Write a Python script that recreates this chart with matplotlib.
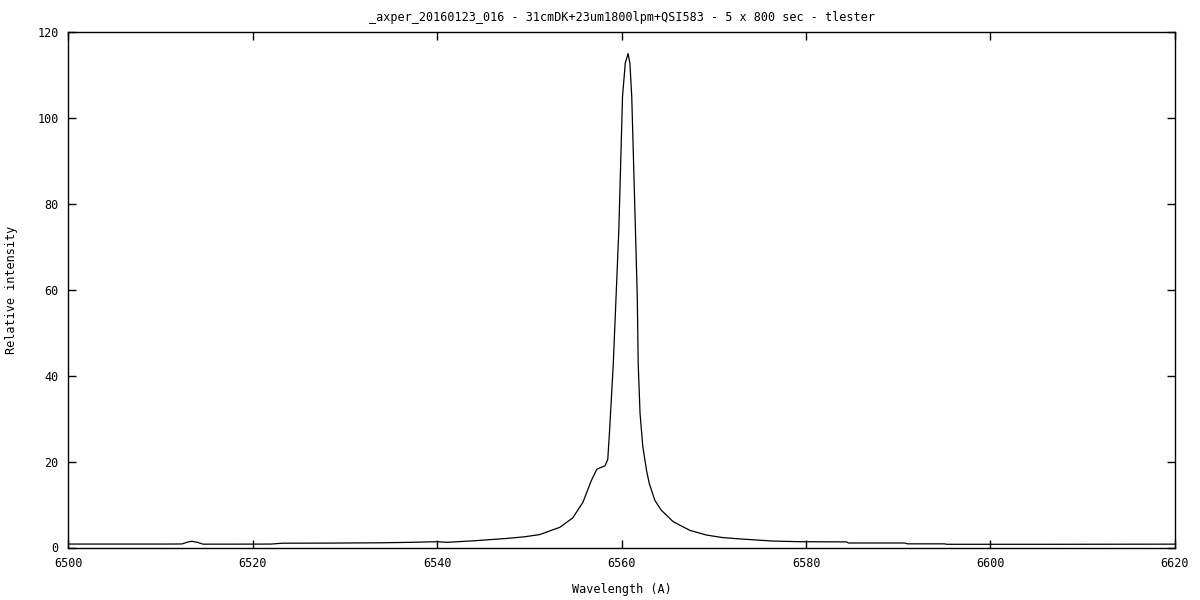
import matplotlib
matplotlib.use("Agg")
import matplotlib.pyplot as plt

# spectrum (wavelength in A, relative intensity)
wavelength = [6500.0, 6505.0, 6510.0, 6512.3, 6513.0, 6513.4, 6514.0, 6514.6,
              6518.0, 6522.0, 6523.2, 6528.0, 6534.0, 6537.0, 6540.0, 6541.0,
              6543.9, 6547.5, 6549.5, 6551.1, 6553.3, 6554.7, 6555.8, 6556.7,
              6557.3, 6557.8, 6558.2, 6558.5, 6558.7, 6558.9, 6559.1, 6559.4,
              6559.7, 6559.9, 6560.1, 6560.4, 6560.7, 6560.9, 6561.1, 6561.3,
              6561.5, 6561.7, 6561.8, 6562.0, 6562.3, 6562.7, 6563.0, 6563.6,
              6564.3, 6565.6, 6567.4, 6569.2, 6571.0, 6572.8, 6576.4, 6579.3,
              6584.4, 6584.6, 6590.7, 6591.0, 6595.0, 6595.3, 6607.0, 6620.0]
intensity = [0.80, 0.80, 0.80, 0.82, 1.3, 1.45, 1.2, 0.78,
             0.78, 0.80, 1.0, 1.02, 1.10, 1.2, 1.35, 1.2,
             1.55, 2.1, 2.5, 3.0, 4.7, 6.9, 10.5, 15.5,
             18.2, 18.7, 19.0, 20.5, 27.3, 35.1, 42.9, 58.4,
             74.0, 89.5, 105.0, 112.8, 115.0, 112.8, 105.0, 89.5,
             74.0, 58.4, 42.9, 31.2, 23.5, 18.0, 14.9, 11.0,
             8.7, 6.0, 4.0, 2.9, 2.3, 2.0, 1.5, 1.35,
             1.3, 1.05, 1.05, 0.85, 0.85, 0.75, 0.75, 0.78]

xticks = [6500, 6520, 6540, 6560, 6580, 6600, 6620]
yticks = [0, 20, 40, 60, 80, 100, 120]

title = "_axper_20160123_016 - 31cmDK+23um1800lpm+QSI583 - 5 x 800 sec - tlester"

plt.rcParams['font.family'] = ['DejaVu Sans Mono']
plt.rcParams['font.size'] = 8.5

fig = plt.figure(figsize=(12, 6), dpi=100)
ax = fig.add_axes([0.057, 0.0875, 0.922, 0.859])

ax.plot(wavelength, intensity, color='black', linewidth=0.9)

ax.set_xlim(6500, 6620)
ax.set_ylim(0, 120)
ax.set_xticks(xticks)
ax.set_yticks(yticks)
ax.tick_params(direction='in', length=6, width=1, top=True, right=True,
               pad=7, colors='black')
for s in ax.spines.values():
    s.set_linewidth(1.0)

ax.set_title(title, fontsize=8.5, pad=8)
ax.set_xlabel("Wavelength (A)", labelpad=9)
ax.set_ylabel("Relative intensity", labelpad=14)

fig.savefig("out.png", dpi=100)
